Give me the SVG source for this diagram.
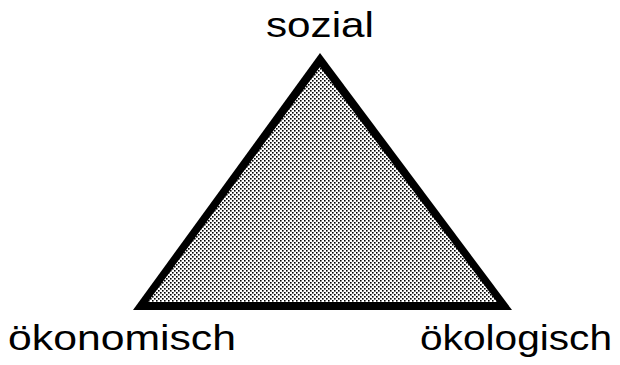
<svg xmlns="http://www.w3.org/2000/svg" width="620" height="365" viewBox="0 0 620 365">
<defs>
<pattern id="dots" width="4" height="4" patternUnits="userSpaceOnUse">
<rect width="4" height="4" fill="#ffffff"/>
<rect x="0" y="0" width="1.6" height="1.6" fill="#000"/>
<rect x="2" y="2" width="1.6" height="1.6" fill="#000"/>
</pattern>
<style>
text{font-family:"Liberation Sans",Arial,sans-serif;font-size:35px;fill:#000}
</style>
</defs>
<rect width="620" height="365" fill="#fff"/>
<g id="triangle">
<polygon points="320,53 133,310 512,310" fill="#000"/>
<polygon points="320,67 148,302 497,302" fill="url(#dots)"/>
</g>
<g id="sozial"><text x="266" y="37" textLength="108" lengthAdjust="spacingAndGlyphs">sozial</text></g>
<g id="oekonomisch"><text x="8" y="350" textLength="228" lengthAdjust="spacingAndGlyphs">ökonomisch</text></g>
<g id="oekologisch"><text x="420" y="350" textLength="192" lengthAdjust="spacingAndGlyphs">ökologisch</text></g>
</svg>
